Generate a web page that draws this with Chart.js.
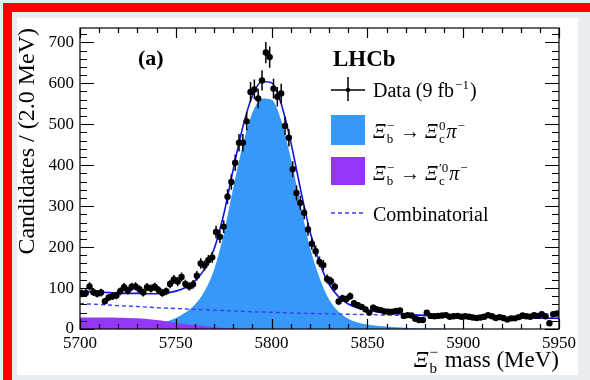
<!DOCTYPE html>
<html>
<head>
<meta charset="utf-8">
<script src="https://cdn.jsdelivr.net/npm/chart.js@4.4.1/dist/chart.umd.min.js"></script>
<style>
  body { margin: 0; width: 590px; height: 380px; background: #e8edf1; position: relative; overflow: hidden; }
  .bar { position: absolute; background: #ff0000; }
  #panel { position: absolute; left: 17px; top: 18px; width: 561px; height: 357px; background: #fff; }
  #wrap { position: absolute; left: 0; top: 0; width: 590px; height: 380px; }
</style>
</head>
<body>
<div class="bar" style="left:3px;top:3px;width:587px;height:9px"></div>
<div class="bar" style="left:3px;top:3px;width:9px;height:377px"></div>
<div id="panel"></div>
<div id="wrap"><canvas id="massPlot"></canvas></div>
<script>
// candidates per 2 MeV bin, bins centred at 5701 ... 5949
const candidates = [
  87, 88, 104, 90, 86, 89, 68, 77, 80, 82,
  92, 102, 94, 103, 104, 97, 89, 102, 99, 103,
  95, 88, 92, 110, 121, 116, 127, 110, 104, 109,
  130, 160, 155, 168, 175, 237, 225, 250, 323, 359,
  406, 455, 455, 507, 579, 585, 563, 607, 675, 664,
  587, 567, 575, 496, 467, 390, 332, 308, 284, 243,
  208, 190, 164, 156, 122, 117, 103, 67, 75, 73,
  80, 63, 58, 54, 48, 40, 52, 48, 46, 43,
  42, 42, 44, 45, 32, 34, 33, 25, 22, 22,
  40, 32, 31, 32, 33, 34, 30, 31, 32, 30,
  31, 30, 28, 27, 28, 30, 34, 31, 27, 29,
  27, 23, 26, 26, 29, 33, 31, 30, 34, 32,
  36, 31, 14, 36, 38
];
const massBins = candidates.map((_, i) => 5701 + 2 * i);

// fit components sampled every 5 MeV from 5700 to 5950
const signalXic0 = [
  1, 1.5, 2, 2.5, 3, 4, 6, 8, 12, 18,
  27, 40, 60, 92, 145, 232, 345, 450, 528, 563,
  560, 510, 418, 305, 200, 125, 72, 42, 25, 16,
  11, 8, 6, 4, 3, 2, 1.5, 1, 0.7, 0.5,
  0.3, 0.2, 0.1, 0, 0, 0, 0, 0, 0, 0,
  0
];
const signalXicPrime = [
  28, 28, 28, 28, 27.5, 27, 26, 24.5, 22, 19,
  15.5, 12.5, 9.5, 7, 4.5, 2.5, 1.2, 0.5, 0.2, 0,
  0, 0, 0, 0, 0, 0, 0, 0, 0, 0,
  0, 0, 0, 0, 0, 0, 0, 0, 0, 0,
  0, 0, 0, 0, 0, 0, 0, 0, 0, 0,
  0
];
const combinatorial = [
  62, 61, 60, 58.5, 57, 56, 55, 53.5, 52, 51,
  50, 49, 48, 47, 46, 45, 44, 43, 42, 41.5,
  41, 40, 39, 38.5, 38, 37.5, 37, 36.5, 36, 35.5,
  35, 34.5, 34, 33.5, 33, 32.5, 32, 31.5, 31, 30.5,
  30, 29.5, 29, 28.5, 28, 27.5, 27, 26.7, 26.4, 26.2,
  26
];
const fitMass = signalXic0.map((_, i) => 5700 + 5 * i);
const fitTotal = fitMass.map((_, i) => signalXic0[i] + signalXicPrime[i] + combinatorial[i]);

const xTicks = [5700, 5750, 5800, 5850, 5900, 5950];
const yTicks = [0, 100, 200, 300, 400, 500, 600, 700];

const SERIF = '"Liberation Serif", "Times New Roman", serif';
const BLUE_FILL = 'rgb(54,152,248)';
const PURPLE_FILL = 'rgb(148,54,246)';
const FIT_BLUE = 'rgb(18,18,235)';
const COMB_BLUE = 'rgb(60,60,250)';

function pts(xv, yv) { return xv.map((x, i) => ({ x: x, y: yv[i] })); }

// text with sub/superscripts; a part is {t, it, b} or {sub, sup}
function rich(ctx, x, y, parts, size, dry) {
  let cx = x;
  const small = Math.round(size * 0.66);
  for (const p of parts) {
    if (p.sub !== undefined || p.sup !== undefined) {
      ctx.font = small + 'px ' + SERIF;
      let w = 0;
      if (p.sub) { if (!dry) ctx.fillText(p.sub, cx + 1, y + size * 0.25); w = Math.max(w, ctx.measureText(p.sub).width); }
      if (p.sup) { if (!dry) ctx.fillText(p.sup, cx + 1, y - size * 0.42); w = Math.max(w, ctx.measureText(p.sup).width); }
      cx += w + 2;
    } else {
      ctx.font = (p.it ? 'italic ' : '') + (p.b ? 'bold ' : '') + size + 'px ' + SERIF;
      if (!dry) ctx.fillText(p.t, cx, y);
      cx += ctx.measureText(p.t).width;
    }
  }
  return cx - x;
}

const decorations = {
  id: 'decorations',
  afterDatasetsDraw(chart) {
    const ctx = chart.ctx, xs = chart.scales.x, ys = chart.scales.y;
    ctx.save();
    ctx.strokeStyle = '#000';
    ctx.lineWidth = 1.5;
    massBins.forEach((m, i) => {
      const n = candidates[i], e = Math.sqrt(n);
      const px = xs.getPixelForValue(m), py = ys.getPixelForValue(n);
      ctx.beginPath();
      ctx.moveTo(px, ys.getPixelForValue(n - e));
      ctx.lineTo(px, ys.getPixelForValue(n + e));
      ctx.moveTo(xs.getPixelForValue(m - 1), py);
      ctx.lineTo(xs.getPixelForValue(m + 1), py);
      ctx.stroke();
    });
    ctx.restore();
  },
  afterDraw(chart) {
    const ctx = chart.ctx, a = chart.chartArea, xs = chart.scales.x, ys = chart.scales.y;
    ctx.save();
    // frame
    ctx.strokeStyle = '#000';
    ctx.lineWidth = 1.2;
    ctx.strokeRect(a.left, a.top, a.right - a.left, a.bottom - a.top);
    // inward ticks on all four sides
    ctx.beginPath();
    for (let m = 5700; m <= 5950; m += 10) {
      const px = Math.round(xs.getPixelForValue(m)) + 0.5;
      const len = m % 50 === 0 ? 10 : 5;
      ctx.moveTo(px, a.bottom); ctx.lineTo(px, a.bottom - len);
      ctx.moveTo(px, a.top); ctx.lineTo(px, a.top + len);
    }
    for (let v = 0; v <= 720; v += 20) {
      const py = Math.round(ys.getPixelForValue(v)) + 0.5;
      const len = v % 100 === 0 ? 14 : 7;
      ctx.moveTo(a.left, py); ctx.lineTo(a.left + len, py);
      ctx.moveTo(a.right, py); ctx.lineTo(a.right - len, py);
    }
    ctx.stroke();

    ctx.fillStyle = '#000';
    ctx.textBaseline = 'alphabetic';
    ctx.textAlign = 'left';
    // labels inside the frame
    ctx.font = 'bold 22px ' + SERIF;
    ctx.fillText('(a)', 138, 65);
    ctx.font = 'bold 23px ' + SERIF;
    ctx.fillText('LHCb', 333, 66);

    // legend
    const lx = 331, lw = 34, tx = 373;
    ctx.lineWidth = 1.5;
    ctx.beginPath();
    ctx.moveTo(lx, 90); ctx.lineTo(lx + lw, 90);
    ctx.moveTo(lx + lw / 2, 77); ctx.lineTo(lx + lw / 2, 101);
    ctx.stroke();
    ctx.beginPath(); ctx.arc(lx + lw / 2, 90, 2.2, 0, Math.PI * 2); ctx.fill();
    rich(ctx, tx, 97, [{ t: 'Data (9 fb' }, { sup: '\u22121' }, { t: ')' }], 20);

    ctx.fillStyle = BLUE_FILL;
    ctx.fillRect(lx, 115, lw, 30);
    ctx.fillStyle = PURPLE_FILL;
    ctx.fillRect(lx, 157, lw, 28);
    ctx.fillStyle = '#000';
    rich(ctx, tx, 138, [{ t: '\u039e', it: true }, { sub: 'b', sup: '\u2212' }, { t: ' \u2192 ' },
      { t: '\u039e', it: true }, { sub: 'c', sup: '0' }, { t: '\u03c0', it: true }, { sup: '\u2212' }], 20);
    rich(ctx, tx, 180, [{ t: '\u039e', it: true }, { sub: 'b', sup: '\u2212' }, { t: ' \u2192 ' },
      { t: '\u039e', it: true }, { sub: 'c', sup: '\u20320' }, { t: '\u03c0', it: true }, { sup: '\u2212' }], 20);

    ctx.strokeStyle = COMB_BLUE;
    ctx.lineWidth = 1.3;
    ctx.setLineDash([4, 3]);
    ctx.beginPath(); ctx.moveTo(lx, 213); ctx.lineTo(lx + 32, 213); ctx.stroke();
    ctx.setLineDash([]);
    ctx.font = '20px ' + SERIF;
    ctx.fillText('Combinatorial', tx, 221);

    // x-axis title, right aligned to the frame
    const xTitle = [{ t: '\u039e', it: true }, { sub: 'b', sup: '\u2212' }, { t: ' mass (MeV)' }];
    const w = rich(ctx, 0, 0, xTitle, 23, true);
    rich(ctx, a.right - w, 367, xTitle, 23);
    ctx.restore();
  }
};

new Chart('massPlot', {
  type: 'line',
  data: {
    datasets: [
      {
        label: 'Data',
        data: pts(massBins, candidates),
        showLine: false,
        pointRadius: 3.2,
        pointBackgroundColor: '#000',
        pointBorderColor: '#000',
        pointBorderWidth: 0,
        order: 0
      },
      {
        label: 'Fit',
        data: pts(fitMass, fitTotal),
        borderColor: FIT_BLUE,
        borderWidth: 1.6,
        pointRadius: 0,
        cubicInterpolationMode: 'monotone',
        fill: false,
        order: 1
      },
      {
        label: 'Combinatorial',
        data: pts(fitMass, combinatorial),
        borderColor: COMB_BLUE,
        borderWidth: 1.4,
        borderDash: [4, 3],
        pointRadius: 0,
        cubicInterpolationMode: 'monotone',
        fill: false,
        order: 2
      },
      {
        label: "Xic'0 pi",
        data: pts(fitMass, signalXicPrime),
        borderWidth: 0,
        borderColor: PURPLE_FILL,
        backgroundColor: PURPLE_FILL,
        pointRadius: 0,
        cubicInterpolationMode: 'monotone',
        fill: 'origin',
        order: 3
      },
      {
        label: 'Xic0 pi',
        data: pts(fitMass, signalXic0),
        borderWidth: 0,
        borderColor: BLUE_FILL,
        backgroundColor: BLUE_FILL,
        pointRadius: 0,
        cubicInterpolationMode: 'monotone',
        fill: 'origin',
        order: 4
      }
    ]
  },
  options: {
    responsive: true,
    maintainAspectRatio: false,
    animation: false,
    events: [],
    layout: { padding: { left: 0, top: 28, right: 31, bottom: 0 } },
    plugins: { legend: { display: false }, tooltip: { enabled: false } },
    scales: {
      x: {
        type: 'linear',
        min: 5700,
        max: 5950,
        afterFit: s => { s.height = 51; },
        afterBuildTicks: s => { s.ticks = xTicks.map(v => ({ value: v })); },
        grid: { display: false, drawTicks: false },
        border: { display: false },
        ticks: {
          color: '#000', padding: 4, maxRotation: 0,
          font: { family: 'Liberation Serif', size: 17 },
          callback: v => String(v)
        }
      },
      y: {
        min: 0,
        max: 735,
        afterFit: s => { s.width = 80; },
        afterBuildTicks: s => { s.ticks = yTicks.map(v => ({ value: v })); },
        grid: { display: false, drawTicks: false },
        border: { display: false },
        ticks: {
          color: '#000', padding: 6,
          font: { family: 'Liberation Serif', size: 17 },
          callback: v => String(v)
        },
        title: {
          display: true,
          text: 'Candidates / (2.0 MeV)',
          align: 'end',
          color: '#000',
          font: { family: 'Liberation Serif', size: 24 },
          padding: { top: 13, bottom: 0 }
        }
      }
    }
  },
  plugins: [decorations]
});
</script>
</body>
</html>
